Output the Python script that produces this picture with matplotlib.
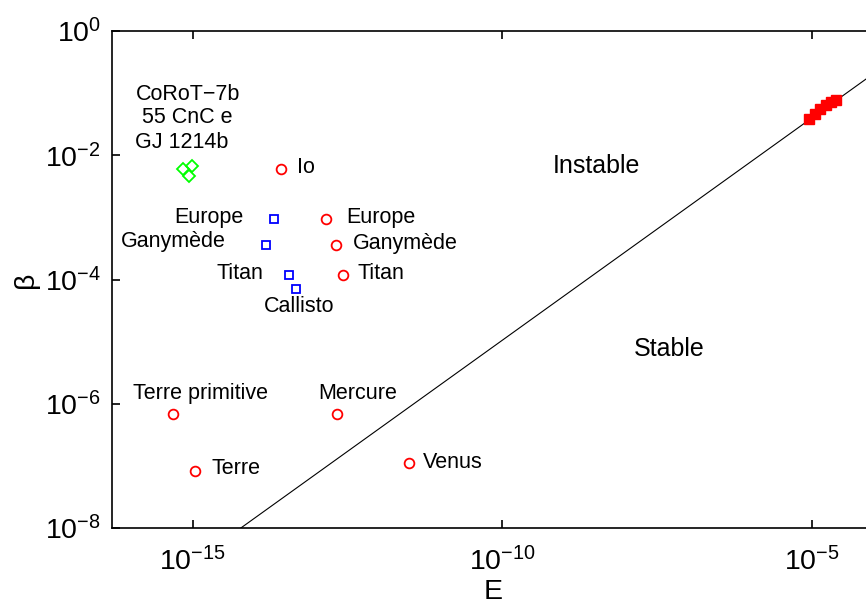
import numpy as np
import matplotlib
matplotlib.use("Agg")
import matplotlib.pyplot as plt

plt.rcParams['font.family'] = ['Liberation Sans', 'DejaVu Sans']
plt.rcParams['mathtext.fontset'] = 'custom'
plt.rcParams['mathtext.rm'] = 'Liberation Sans'
plt.rcParams['mathtext.default'] = 'regular'

# exoplanets (green diamonds)
exo_E = [7.0e-16, 9.8e-16, 8.85e-16]
exo_beta = [5.9e-3, 6.6e-3, 4.7e-3]

# solar system bodies (red circles)
body_names = ["Io", "Europe", "Ganymède", "Titan", "Terre primitive", "Mercure", "Terre", "Venus"]
body_E = [2.7e-14, 1.41e-13, 2.05e-13, 2.72e-13, 4.8e-16, 2.14e-13, 1.1e-15, 3.13e-12]
body_beta = [5.9e-3, 9.4e-4, 3.6e-4, 1.17e-4, 6.8e-7, 6.9e-7, 8.3e-8, 1.1e-7]

# moons, second estimate (blue squares)
moon_names = ["Europe", "Ganymède", "Titan", "Callisto"]
moon_E = [2.04e-14, 1.55e-14, 3.55e-14, 4.6e-14]
moon_beta = [9.4e-4, 3.6e-4, 1.17e-4, 7.1e-5]

# red filled squares along the limit
hot_E = [9.0e-6, 1.1e-5, 1.33e-5, 1.66e-5, 2.0e-5, 2.4e-5]
hot_beta = [0.0385, 0.0465, 0.0558, 0.0647, 0.0724, 0.078]

# stability limit
line_E = [6.0e-15, 1e-4]
line_beta = [1e-8, 0.21]

fig = plt.figure(figsize=(8.66, 6.05), dpi=100)
ax = fig.add_axes([112/866, 77/605, 762.3/866, 497/605])

ax.plot(line_E, line_beta, color='black', lw=0.8)
ax.plot(exo_E, exo_beta, 'D', mfc='none', mec=(0, 1, 0), ms=6, mew=1.3, ls='none')
ax.plot(body_E, body_beta, 'o', mfc='none', mec='red', ms=7, mew=1.3, ls='none')
ax.plot(moon_E, moon_beta, 's', mfc='none', mec='blue', ms=6, mew=1.3, ls='none')
ax.plot(hot_E, hot_beta, 's', mfc='red', mec='red', ms=7.5, mew=1, ls='none')

ax.set_xscale('log')
ax.set_yscale('log')
ax.set_xlim(5e-17, 1e-4)
ax.set_ylim(1e-8, 1e0)
ax.set_xticks([1e-15, 1e-10, 1e-5])
ax.set_yticks([1e-8, 1e-6, 1e-4, 1e-2, 1e0])
ax.minorticks_off()
ax.tick_params(which='both', direction='in', length=6, width=1.2, top=True, right=True,
               labelsize=20.5)
ax.tick_params(axis='x', pad=14)
ax.tick_params(axis='y', pad=8)
for sp in ax.spines.values():
    sp.set_linewidth(1.2)

ax.set_xlabel("E", fontsize=20.5, labelpad=2)
ax.set_ylabel("β", fontsize=20.5, labelpad=4)

fs = 15.5
ax.text(10**-15.07, 10**-1.03, "CoRoT−7b", fontsize=fs, ha='center', va='center')
ax.text(10**-15.085, 10**-1.40, "55 CnC e", fontsize=fs, ha='center', va='center')
ax.text(10**-15.18, 10**-1.80, "GJ 1214b", fontsize=fs, ha='center', va='center')

ax.text(10**-13.31, 10**-2.20, "Io", fontsize=fs, ha='left', va='center')
ax.text(10**-12.52, 10**-3.0, "Europe", fontsize=fs, ha='left', va='center')
ax.text(10**-12.42, 10**-3.42, "Ganymède", fontsize=fs, ha='left', va='center')
ax.text(10**-12.34, 10**-3.9, "Titan", fontsize=fs, ha='left', va='center')
ax.text(10**-14.875, 10**-5.83, "Terre primitive", fontsize=fs, ha='center', va='center')
ax.text(10**-12.335, 10**-5.83, "Mercure", fontsize=fs, ha='center', va='center')
ax.text(10**-14.70, 10**-7.04, "Terre", fontsize=fs, ha='left', va='center')
ax.text(10**-11.28, 10**-6.94, "Venus", fontsize=fs, ha='left', va='center')

ax.text(10**-14.18, 10**-3.0, "Europe", fontsize=fs, ha='right', va='center')
ax.text(10**-14.47, 10**-3.39, "Ganymède", fontsize=fs, ha='right', va='center')
ax.text(10**-13.86, 10**-3.9, "Titan", fontsize=fs, ha='right', va='center')
ax.text(10**-13.28, 10**-4.43, "Callisto", fontsize=fs, ha='center', va='center')

ax.text(10**-8.49, 10**-2.17, "Instable", fontsize=18, ha='center', va='center')
ax.text(10**-7.31, 10**-5.12, "Stable", fontsize=18, ha='center', va='center')

fig.savefig("out.png", dpi=100)
